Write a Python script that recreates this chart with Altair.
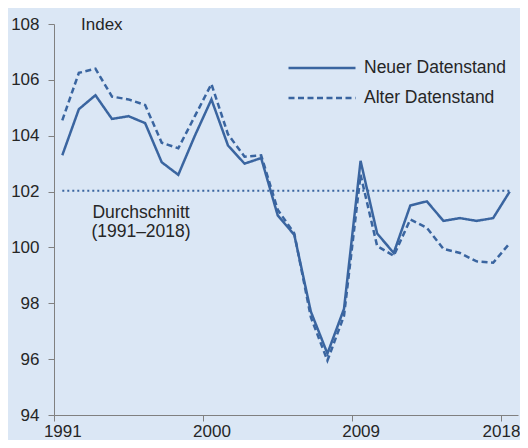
import altair as alt
import pandas as pd

years = list(range(1991, 2019))
neuer = [103.3, 104.95, 105.45, 104.6, 104.7, 104.45, 103.05, 102.6, 104.0, 105.3,
         103.65, 103.0, 103.2, 101.15, 100.45, 97.7, 96.2, 97.8, 103.1, 100.5,
         99.8, 101.5, 101.65, 100.95, 101.05, 100.95, 101.05, 102.0]
alter = [104.55, 106.25, 106.4, 105.4, 105.3, 105.1, 103.75, 103.55, 104.7, 105.85,
         104.05, 103.25, 103.3, 101.35, 100.5, 97.5, 95.95, 97.55, 102.6, 100.05,
         99.7, 101.0, 100.7, 99.95, 99.8, 99.5, 99.45, 100.15]
series_names = ["Neuer Datenstand", "Alter Datenstand"]
durchschnitt = 102.03
x_ticks = [1991, 2000, 2009, 2018]
y_ticks = [94, 96, 98, 100, 102, 104, 106, 108]

df = pd.DataFrame({
    "Jahr": years * 2,
    "Wert": neuer + alter,
    "Reihe": [series_names[0]] * len(years) + [series_names[1]] * len(years),
})
avg_df = pd.DataFrame({"von": [years[0]], "bis": [years[-1]], "Wert": [durchschnitt]})

BLUE = "#3a65a0"
BG = "#dbe7f5"
FONT = "Liberation Sans"
TXT = "#262626"

x_scale = alt.Scale(domain=[1991, 2019], nice=False, zero=False)
y_scale = alt.Scale(domain=[94, 108], nice=False, zero=False)

x_axis = alt.Axis(values=x_ticks, format="d", title=None, tickSize=6,
                  labelOffset={"condition": {"test": "datum.value == 2018", "value": -0.5},
                               "value": 8.3},
                  labelPadding=2, labelFlush=False, labelOverlap=False, labelBound=False,
                  grid=False)
y_axis = alt.Axis(values=y_ticks, title=None, tickSize=6, labelPadding=9, grid=False)

base = alt.Chart(df).transform_calculate(xpos="datum.Jahr + 0.5")

lines = base.mark_line(color=BLUE, strokeWidth=2.5).encode(
    x=alt.X("xpos:Q", scale=x_scale, axis=x_axis),
    y=alt.Y("Wert:Q", scale=y_scale, axis=y_axis),
    strokeDash=alt.StrokeDash(
        "Reihe:N",
        scale=alt.Scale(domain=series_names, range=[[1, 0], [6, 3.5]]),
        legend=alt.Legend(title=None, orient="none", legendX=233, legendY=29,
                          symbolType="stroke", symbolSize=4489, symbolStrokeWidth=2.5,
                          symbolStrokeColor=BLUE, labelFontSize=17.5, labelFont=FONT,
                          labelColor=TXT, labelOffset=7, clipHeight=30, rowPadding=0,
                          padding=0),
    ),
)

avg_rule = alt.Chart(avg_df).transform_calculate(
    x1="datum.von + 0.5", x2="datum.bis + 0.5"
).mark_rule(color=BLUE, strokeWidth=2, strokeDash=[2, 3]).encode(
    x=alt.X("x1:Q", scale=x_scale),
    x2="x2:Q",
    y=alt.Y("Wert:Q", scale=y_scale),
)

label_df = pd.DataFrame({"t": ["Index"]})
index_text = alt.Chart(label_df).mark_text(
    font=FONT, fontSize=17, color=TXT, align="left", baseline="middle"
).encode(text="t:N", x=alt.value(27), y=alt.value(1))

avg_label1 = alt.Chart(pd.DataFrame({"t": ["Durchschnitt"]})).mark_text(
    font=FONT, fontSize=17.5, color=TXT, align="center", baseline="middle"
).encode(text="t:N", x=alt.value(87), y=alt.value(189))
avg_label2 = alt.Chart(pd.DataFrame({"t": ["(1991–2018)"]})).mark_text(
    font=FONT, fontSize=17.5, color=TXT, align="center", baseline="middle"
).encode(text="t:N", x=alt.value(87), y=alt.value(208))

chart = alt.layer(avg_rule, lines, index_text, avg_label1, avg_label2).properties(
    width=464, height=391,
    padding={"left": 46, "top": 16, "right": 2, "bottom": 25},
    autosize="none",
    background=BG,
).configure_view(stroke=None).configure_axis(
    domainColor="#808080", tickColor="#808080", labelColor=TXT,
    labelFont=FONT, labelFontSize=17,
)

chart.save("out.html", embed_options={"renderer": "svg", "actions": False})
